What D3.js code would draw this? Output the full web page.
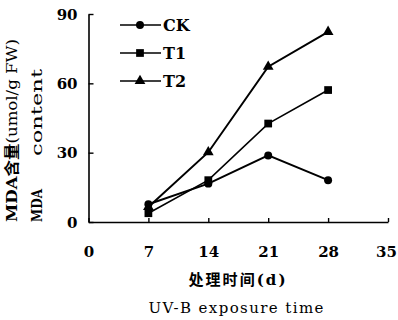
<!DOCTYPE html>
<html>
<head>
<meta charset="utf-8">
<script src="https://cdn.jsdelivr.net/npm/d3@7"></script>
<style>
  body { margin: 0; background: #fff; }
  .tick text { font-family: "DejaVu Serif", serif; font-weight: bold; font-size: 15px; fill: #000; }
  .legend text { font-family: "DejaVu Serif", serif; font-weight: bold; font-size: 16px; }
  .ttl { font-family: "DejaVu Serif", "Noto Sans CJK SC", serif; font-size: 15px; }
  .ttl.cn { font-weight: bold; }
</style>
</head>
<body>
<div id="chart"></div>
<script>
// data
var days = [7, 14, 21, 28];
var seriesNames = ['CK', 'T1', 'T2'];
var ck = [7.7, 16.6, 28.8, 18.1];
var t1 = [3.8, 18.1, 42.6, 57.1];
var t2 = [6.5, 30.2, 67.2, 82.3];
var xTicks = [0, 7, 14, 21, 28, 35];
var yTicks = [0, 30, 60, 90];

var width = 398, height = 320;

var svg = d3.select('#chart').append('svg')
  .attr('width', width)
  .attr('height', height);

var x = d3.scaleLinear().domain([0, 35]).range([88.5, 388]);
var y = d3.scaleLinear().domain([0, 90]).range([222, 14]);

var xAxis = d3.axisBottom(x)
  .tickValues(xTicks)
  .tickSizeInner(-4)
  .tickSizeOuter(0)
  .tickPadding(24);

var yAxis = d3.axisLeft(y)
  .tickValues(yTicks)
  .tickSizeInner(-5)
  .tickSizeOuter(0)
  .tickPadding(11);

var gx = svg.append('g')
  .attr('transform', 'translate(0,222)')
  .call(xAxis);
var gy = svg.append('g')
  .attr('transform', 'translate(88.5,0)')
  .call(yAxis);

[gx, gy].forEach(g => {
  g.select('.domain').attr('stroke', '#000').attr('stroke-width', 1.6);
  g.selectAll('.tick line').attr('stroke', '#000').attr('stroke-width', 1.4);
  g.attr('font-size', null).attr('font-family', null);
});
gx.selectAll('.tick text').attr('dy', '0.35em').attr('y', 30)
  .attr('dx', d => d == 35 ? -2 : 0);
gy.selectAll('.tick text').attr('dy', '0.35em');

var series = [
  { name: seriesNames[0], values: ck, shape: d3.symbolCircle, size: 50, sw: 2 },
  { name: seriesNames[1], values: t1, shape: d3.symbolSquare, size: 60, sw: 1.6 },
  { name: seriesNames[2], values: t2, shape: d3.symbolTriangle, size: 50, sw: 2 }
];

var line = d3.line()
  .x((d, i) => x(days[i]))
  .y(d => y(d));

series.forEach(s => {
  svg.append('path')
    .datum(s.values)
    .attr('d', line)
    .attr('fill', 'none')
    .attr('stroke', '#000')
    .attr('stroke-width', s.sw);

  svg.selectAll(null)
    .data(s.values)
    .enter()
    .append('path')
    .attr('d', d3.symbol().type(s.shape).size(s.size))
    .attr('transform', (d, i) => `translate(${x(days[i])},${y(d)})`)
    .attr('fill', '#000');
});

// legend
var legend = svg.append('g').attr('class', 'legend');
var rowY = d3.scalePoint().domain(seriesNames).range([25, 81]);
series.forEach(s => {
  var ly = rowY(s.name);
  legend.append('line')
    .attr('x1', 120).attr('x2', 161)
    .attr('y1', ly).attr('y2', ly)
    .attr('stroke', '#000')
    .attr('stroke-width', 1.5);
  legend.append('path')
    .attr('d', d3.symbol().type(s.shape).size(s.size))
    .attr('transform', `translate(140,${ly})`)
    .attr('fill', '#000');
  legend.append('text')
    .attr('x', 163)
    .attr('y', ly)
    .attr('dy', '0.35em')
    .text(s.name);
});

// y axis title
var yt1 = svg.append('text')
  .attr('class', 'ttl')
  .attr('transform', 'translate(12,222) rotate(-90)')
  .attr('dy', '0.35em')
  .attr('textLength', 183)
  .attr('lengthAdjust', 'spacingAndGlyphs');
yt1.append('tspan').attr('font-weight', 'bold').text('MDA含量');
yt1.append('tspan').text('(umol/g FW)');

var yt2 = svg.append('text')
  .attr('class', 'ttl')
  .attr('transform', 'translate(37,222) rotate(-90)')
  .attr('dy', '0.35em');
yt2.append('tspan').attr('font-weight', 'bold')
  .attr('textLength', 33).attr('lengthAdjust', 'spacingAndGlyphs')
  .text('MDA');
yt2.append('tspan').attr('x', 66)
  .attr('textLength', 87).attr('lengthAdjust', 'spacingAndGlyphs')
  .text('content');

// x axis title
svg.append('text')
  .attr('class', 'ttl cn')
  .attr('x', 237)
  .attr('y', 280)
  .attr('dy', '0.35em')
  .attr('text-anchor', 'middle')
  .attr('textLength', 97)
  .text('处理时间(d)');
svg.append('text')
  .attr('class', 'ttl')
  .attr('x', 236)
  .attr('y', 308)
  .attr('dy', '0.35em')
  .attr('text-anchor', 'middle')
  .attr('textLength', 175)
  .attr('lengthAdjust', 'spacing')
  .text('UV-B exposure time');
</script>
</body>
</html>
